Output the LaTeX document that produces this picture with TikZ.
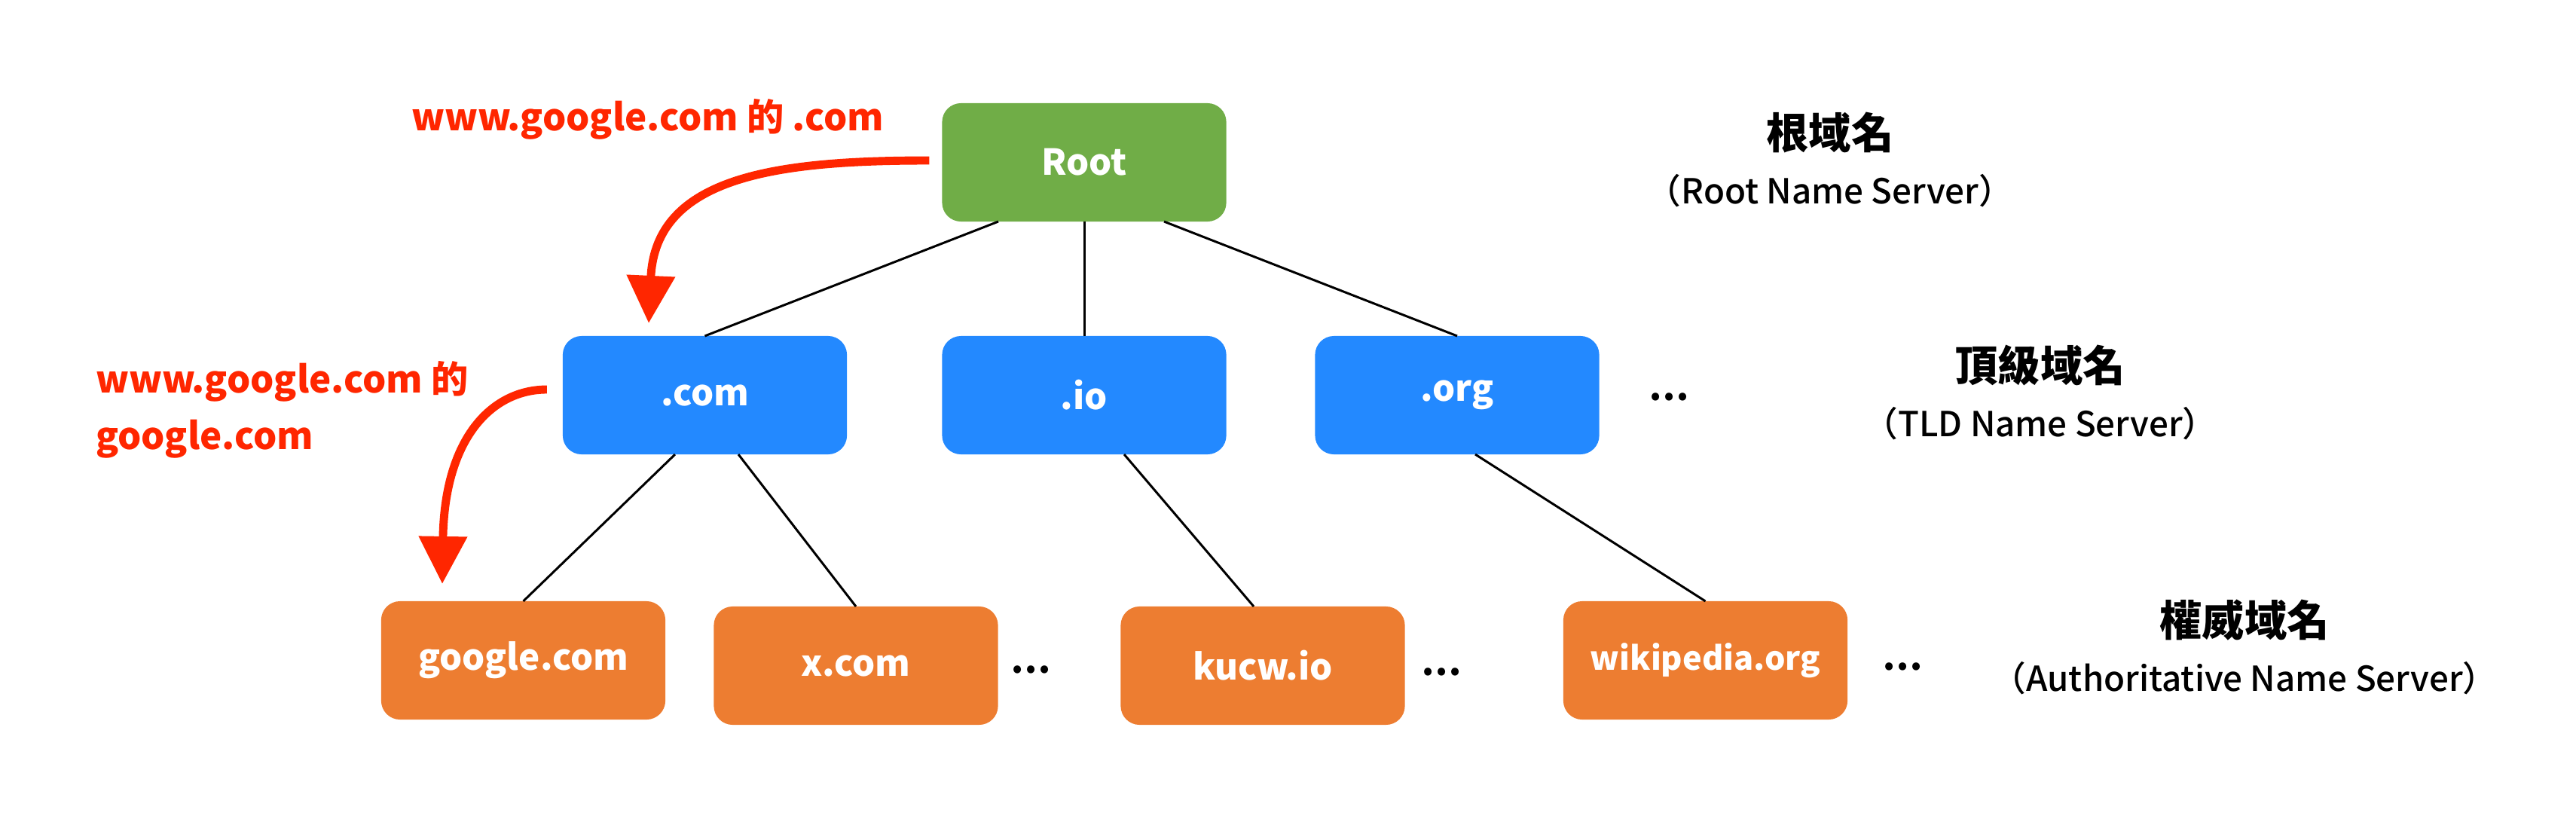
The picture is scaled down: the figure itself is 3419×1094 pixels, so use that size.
\documentclass[tikz,border=0pt]{standalone}
\usepackage{fontspec}
\setmainfont{Noto Sans CJK TC}
\newfontfamily\mediumcjk{Noto Sans CJK TC Medium}
\usetikzlibrary{arrows.meta}
\definecolor{rootgreen}{HTML}{70AD47}
\definecolor{tldblue}{HTML}{2389FF}
\definecolor{authorange}{HTML}{ED7D31}
\definecolor{hintred}{HTML}{FF2600}
\newcommand{\servername}[1]{{\mediumcjk\mdseries\fontsize{13}{20.5}\selectfont #1}}
\begin{document}
\begin{tikzpicture}[x=0.01cm,y=-0.01cm,inner sep=0pt,outer sep=0pt,
font=\bfseries\fontsize{13.5}{16}\selectfont,
dnsbox/.style={rectangle,rounded corners=0.25cm,minimum width=3.77cm,minimum height=1.57cm,text=white},
rootbox/.style={dnsbox,fill=rootgreen},
tldbox/.style={dnsbox,fill=tldblue},
authbox/.style={dnsbox,fill=authorange},
treeline/.style={line width=0.85pt},
hint/.style={text=hintred,anchor=base west,align=left,font=\bfseries\fontsize{14}{21.3}\selectfont},
hintarrow/.style={draw=hintred,line width=3.1pt,-{Triangle[length=0.63cm,width=0.62cm]}},
level/.style={anchor=base,align=center,font=\bfseries\fontsize{16}{20.5}\selectfont}]
\useasboundingbox (0,0) rectangle (3419,1094);
% tree
\draw (1439,215.5) node[rootbox] (root) {Root};
\draw (935.5,524.5) node[tldbox] (com) {.com};
\draw (1439,524.5) node[tldbox] (io) {.io};
\draw (1934,524.5) node[tldbox] (org) {.org};
\draw (694.5,876.5) node[authbox] (google) {google.com};
\draw (1136,883.5) node[authbox] (xcom) {x.com};
\draw (1676,883.5) node[authbox] (kucw) {kucw.io};
\draw (2263.5,876.5) node[authbox,font=\bfseries\fontsize{12.3}{15}\selectfont] (wiki) {wikipedia.org};
\draw (2215,527) node (tlddots) {…};
\draw (1368,889) node (comdots) {…};
\draw (1913,892) node (iodots) {…};
\draw (2525,885) node (orgdots) {…};
\draw[treeline] ([shift={(-114,0)}]root.south) -- (com.north);
\draw[treeline] (root.south) -- (io.north);
\draw[treeline] ([shift={(106,0)}]root.south) -- (org.north);
\draw[treeline] ([shift={(-39.5,0)}]com.south) -- (google.north);
\draw[treeline] ([shift={(44.5,0)}]com.south) -- (xcom.north);
\draw[treeline] ([shift={(53,0)}]io.south) -- ([shift={(-12,0)}]kucw.north);
\draw[treeline] ([shift={(24,0)}]org.south) -- (wiki.north);
% levels (base = last line)
\draw (2429,270) node[level] (rootlevel) {根域名\\\servername{（Root Name Server）}};
\draw (2708,579) node[level] (tldlevel) {頂級域名\\\servername{（TLD Name Server）}};
\draw (2979,917) node[level] (authlevel) {權威域名\\\servername{（Authoritative Name Server）}};
% hints
\draw (546,174) node[hint] (hintcom) {www.google.com 的 .com};
\draw (127,596) node[hint] (hintgoogle) {www.google.com 的\\google.com};
\draw[hintarrow] ([shift={(-17,-2.5)}]root.west) .. controls +(-202,0) and +(9,-195) .. ([shift={(-74.5,-17)}]com.north);
\draw[hintarrow] ([shift={(-21,-7.5)}]com.west) .. controls +(-72,0) and +(3,-195) .. ([shift={(-107.5,-23)}]google.north);
\end{tikzpicture}
\end{document}
